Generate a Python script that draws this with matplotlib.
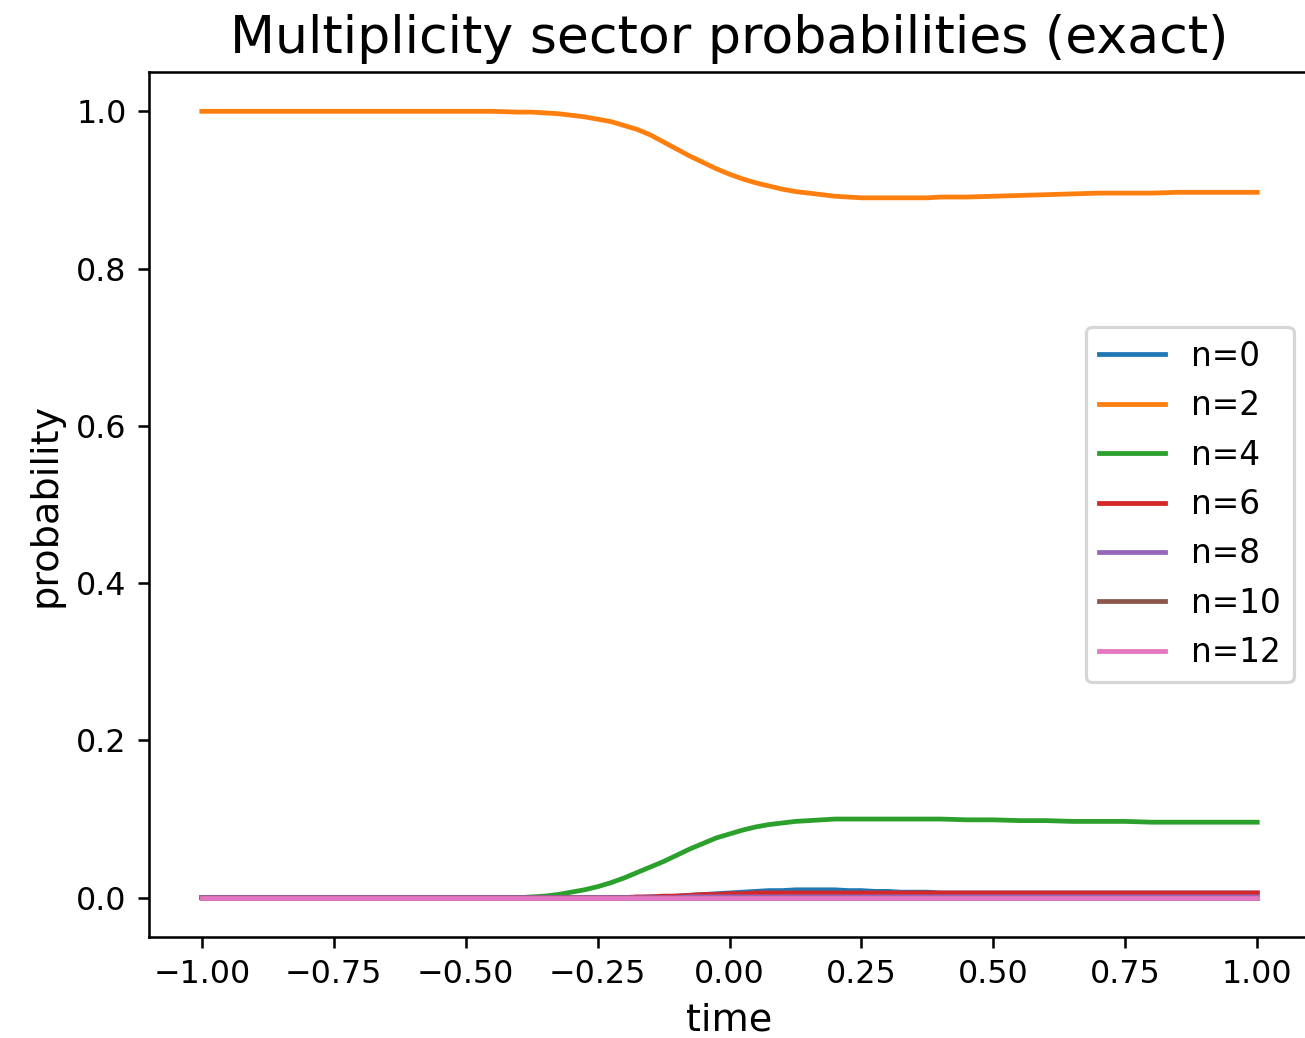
import matplotlib
matplotlib.use("Agg")
import matplotlib.pyplot as plt
import numpy as np

# time samples: coarse on the flat parts, finer through the transition
time = np.concatenate([
    np.round(np.arange(-1.0, -0.449, 0.05), 3),   # -1.00 .. -0.45
    np.round(np.arange(-0.4, 0.4001, 0.025), 3),  # -0.400 .. 0.400
    np.round(np.arange(0.45, 1.0001, 0.05), 3),   # 0.45 .. 1.00
])

# probability of each multiplicity sector
p_n0 = ([0.0] * 12
        + [0.0] * 10
        + [0.001, 0.001, 0.002, 0.003, 0.004, 0.005, 0.006, 0.007, 0.008, 0.009,
           0.009, 0.010, 0.010, 0.010, 0.010, 0.009, 0.009, 0.008, 0.008, 0.007,
           0.007, 0.007, 0.006]
        + [0.006] * 12)
p_n2 = ([1.0] * 12
        + [0.999, 0.999, 0.998, 0.997, 0.995, 0.993, 0.990, 0.987, 0.982, 0.977,
           0.970, 0.961, 0.952, 0.943, 0.935, 0.927, 0.920, 0.914, 0.909, 0.905,
           0.901, 0.898, 0.896, 0.894, 0.892, 0.891, 0.890, 0.890, 0.890, 0.890,
           0.890, 0.890, 0.891]
        + [0.891, 0.892, 0.893, 0.894, 0.895, 0.896, 0.896, 0.896, 0.897, 0.897,
           0.897, 0.897])
p_n4 = ([0.0] * 12
        + [0.000, 0.001, 0.002, 0.004, 0.007, 0.010, 0.014, 0.019, 0.025, 0.032,
           0.039, 0.046, 0.054, 0.062, 0.069, 0.076, 0.081, 0.086, 0.090, 0.093,
           0.095, 0.097, 0.098, 0.099, 0.100, 0.100, 0.100, 0.100, 0.100, 0.100,
           0.100, 0.100, 0.100]
        + [0.099, 0.099, 0.098, 0.098, 0.097, 0.097, 0.097, 0.096, 0.096, 0.096,
           0.096, 0.096])
p_n6 = ([0.0] * 12
        + [0.0] * 9
        + [0.001, 0.001, 0.002, 0.002, 0.003, 0.004, 0.004, 0.005, 0.005]
        + [0.006] * 15
        + [0.006] * 12)
p_n8 = ([0.0] * 12
        + [0.0] * 13
        + [0.001] * 20
        + [0.001] * 12)
p_n10 = [0.0] * 57
p_n12 = [0.0] * 57

sectors = [0, 2, 4, 6, 8, 10, 12]
probs = [p_n0, p_n2, p_n4, p_n6, p_n8, p_n10, p_n12]

dpi = 229
fig = plt.figure(figsize=(1305 / dpi, 1038 / dpi), dpi=dpi)
ax = fig.add_axes([149 / 1305, 1 - 937 / 1038, 1161 / 1305, 865 / 1038])

for n, p in zip(sectors, probs):
    ax.plot(time, p, label=f"n={n}")

ax.set_title("Multiplicity sector probabilities (exact)", fontsize=16.4)
ax.set_xlabel("time", fontsize=12)
ax.set_ylabel("probability", fontsize=12)
ax.set_xticks([-1.0, -0.75, -0.5, -0.25, 0.0, 0.25, 0.5, 0.75, 1.0])
ax.legend(loc="center right", fontsize=10.3)

fig.savefig("out.png", dpi=dpi)
